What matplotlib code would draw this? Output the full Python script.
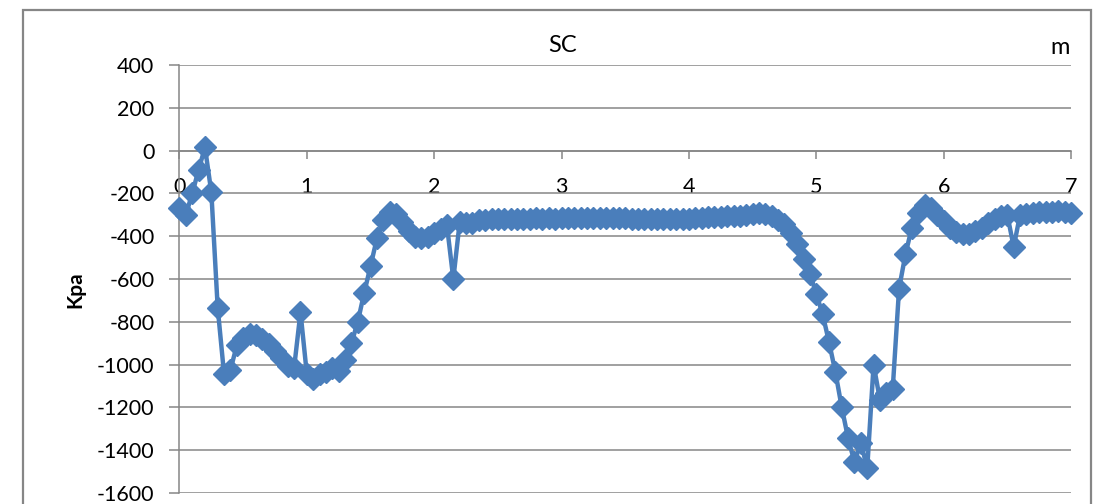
import matplotlib.pyplot as plt
from matplotlib.patches import Rectangle

# distance along the section (m)
distance_m = [
    0.00, 0.05, 0.10, 0.15, 0.20, 0.25, 0.30, 0.35, 0.40, 0.45,
    0.50, 0.55, 0.60, 0.65, 0.70, 0.75, 0.80, 0.85, 0.90, 0.95,
    1.00, 1.05, 1.10, 1.15, 1.20, 1.25, 1.30, 1.35, 1.40, 1.45,
    1.50, 1.55, 1.60, 1.65, 1.70, 1.75, 1.80, 1.85, 1.90, 1.95,
    2.00, 2.05, 2.10, 2.15, 2.20, 2.25, 2.30, 2.35, 2.40, 2.45,
    2.50, 2.55, 2.60, 2.65, 2.70, 2.75, 2.80, 2.85, 2.90, 2.95,
    3.00, 3.05, 3.10, 3.15, 3.20, 3.25, 3.30, 3.35, 3.40, 3.45,
    3.50, 3.55, 3.60, 3.65, 3.70, 3.75, 3.80, 3.85, 3.90, 3.95,
    4.00, 4.05, 4.10, 4.15, 4.20, 4.25, 4.30, 4.35, 4.40, 4.45,
    4.50, 4.55, 4.60, 4.65, 4.70, 4.75, 4.80, 4.85, 4.90, 4.95,
    5.00, 5.05, 5.10, 5.15, 5.20, 5.25, 5.30, 5.35, 5.40, 5.45,
    5.50, 5.55, 5.60, 5.65, 5.70, 5.75, 5.80, 5.85, 5.90, 5.95,
    6.00, 6.05, 6.10, 6.15, 6.20, 6.25, 6.30, 6.35, 6.40, 6.45,
    6.50, 6.55, 6.60, 6.65, 6.70, 6.75, 6.80, 6.85, 6.90, 6.95,
    7.00,
]

# pressure (kPa)
pressure_kpa = [
    -268, -300, -200, -90, 15, -195, -735, -1045, -1025, -910,
    -875, -855, -860, -880, -905, -935, -970, -1005, -1015, -755,
    -1045, -1065, -1045, -1035, -1015, -1030, -980, -900, -800, -665,
    -540, -410, -325, -285, -295, -335, -375, -405, -410, -405,
    -385, -365, -350, -600, -335, -340, -340, -325, -322, -320,
    -321, -319, -320, -318, -319, -318, -317, -318, -317, -318,
    -317, -316, -317, -316, -317, -316, -316, -317, -316, -316,
    -317, -318, -318, -319, -320, -320, -321, -321, -320, -320,
    -318, -316, -314, -312, -310, -309, -307, -306, -305, -302,
    -298, -292, -295, -305, -322, -345, -385, -435, -505, -575,
    -670, -765, -895, -1035, -1200, -1345, -1455, -1365, -1485, -1000,
    -1165, -1135, -1115, -645, -485, -360, -290, -255, -270, -300,
    -330, -360, -380, -390, -390, -375, -360, -340, -320, -305,
    -300, -450, -300, -295, -290, -285, -285, -285, -283, -285,
    -290,
]

x_ticks = [0, 1, 2, 3, 4, 5, 6, 7]
y_ticks = [400, 200, 0, -200, -400, -600, -800, -1000, -1200, -1400, -1600]

plt.rcParams['font.family'] = ['Lato', 'DejaVu Sans']
plt.rcParams['axes.unicode_minus'] = False
grey = '#868686'
blue = '#4a7ebb'

W, H = 1093, 504
fig = plt.figure(figsize=(W / 100, H / 100), dpi=100)
ax = fig.add_axes([179.5 / W, 1 - 493 / H, (1071 - 179.5) / W, (493 - 65) / H])

ax.plot(distance_m, pressure_kpa, color=blue, lw=3.2, marker='D', ms=11.5,
        mfc=blue, mec=blue, zorder=3, clip_on=False)

ax.set_xlim(0, 7)
ax.set_ylim(-1600, 400)
ax.set_xticks(x_ticks)
ax.set_yticks(y_ticks)
ax.grid(axis='y', color=grey, lw=1.1)
ax.set_axisbelow(True)

for s in ['top', 'right']:
    ax.spines[s].set_visible(False)
ax.spines['left'].set_color(grey)
ax.spines['left'].set_linewidth(1.1)
ax.spines['bottom'].set_position(('data', 0))
ax.spines['bottom'].set_color(grey)
ax.spines['bottom'].set_linewidth(1.1)

ax.tick_params(axis='x', direction='out', length=6, width=1.1, color=grey,
               pad=13, labelsize=15.5, labelcolor='black')
ax.tick_params(axis='y', direction='out', length=7, width=1.1, color=grey,
               pad=11, labelsize=15.5, labelcolor='black')

fig.text(75 / W, 1 - 290 / H, 'Kpa', rotation=90, fontsize=15,
         fontweight='bold', ha='center', va='center')
fig.text(563 / W, 1 - 46 / H, 'SC', fontsize=17, ha='center', va='center')
fig.text(1060 / W, 1 - 48 / H, 'm', fontsize=17, ha='center', va='center')

# outer chart frame (bottom edge lies outside the picture)
fig.patches.append(Rectangle((23 / W, -0.1), (1091 - 23) / W, 1.1 - 10 / H,
                             transform=fig.transFigure, fill=False,
                             edgecolor=grey, lw=1.6))

fig.savefig('out.png', dpi=100)
